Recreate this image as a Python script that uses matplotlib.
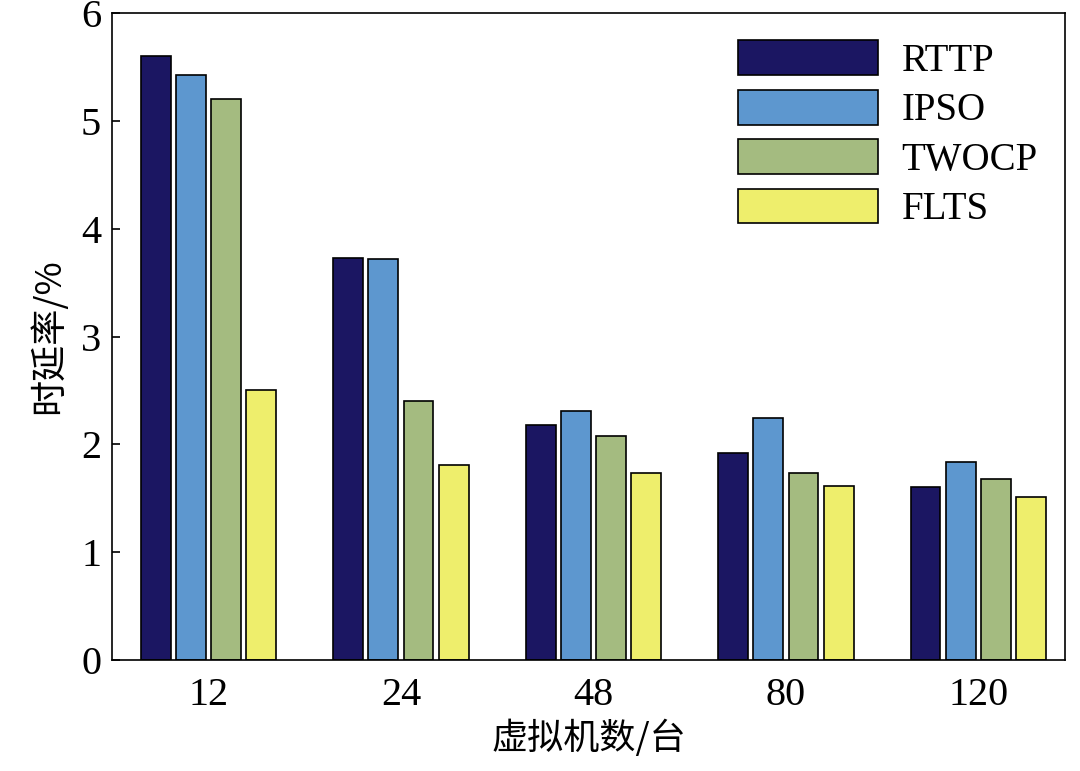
import matplotlib.pyplot as plt
import numpy as np

categories = ["12", "24", "48", "80", "120"]
series_names = ["RTTP", "IPSO", "TWOCP", "FLTS"]
rttp = [5.60, 3.73, 2.18, 1.92, 1.60]
ipso = [5.43, 3.72, 2.31, 2.24, 1.84]
twocp = [5.20, 2.40, 2.08, 1.73, 1.68]
flts = [2.50, 1.81, 1.73, 1.61, 1.51]
colors = ["#1b1662", "#5d97cf", "#a4bb80", "#eeee6c"]

serif = "Liberation Serif"
cjk = "Noto Sans CJK SC"

fig, ax = plt.subplots(figsize=(10.8, 7.71), dpi=100)
fig.subplots_adjust(left=0.104, right=0.986, top=0.983, bottom=0.144)

x = np.arange(len(categories))
step, width = 0.183, 0.155
for i, (vals, name) in enumerate(zip([rttp, ipso, twocp, flts], series_names)):
    ax.bar(x + (i - 1.5) * step, vals, width, color=colors[i],
           edgecolor="black", linewidth=1.2, label=name)

ax.set_xlim(-0.5, 4.45)
ax.set_ylim(0, 6)
ax.set_xticks(x)
ax.set_xticklabels(categories, fontfamily=serif, fontsize=29)
ax.set_yticks(range(7))
ax.set_yticklabels([str(v) for v in range(7)], fontfamily=serif, fontsize=29)
ax.tick_params(axis="y", direction="in", length=6, width=1.2, pad=8)
ax.tick_params(axis="x", length=0, pad=12)
for s in ax.spines.values():
    s.set_linewidth(1.2)

ax.set_ylabel("时延率/%", fontfamily=cjk, fontsize=26, labelpad=10)
ax.set_xlabel("虚拟机数/台", fontfamily=cjk, fontsize=26, labelpad=4)

ax.legend(loc="upper right", frameon=False, prop={"family": serif, "size": 28},
          handlelength=3.6, handleheight=1.0, labelspacing=0.25,
          borderaxespad=0.3, handletextpad=0.6)

fig.savefig("out.png", dpi=100)
